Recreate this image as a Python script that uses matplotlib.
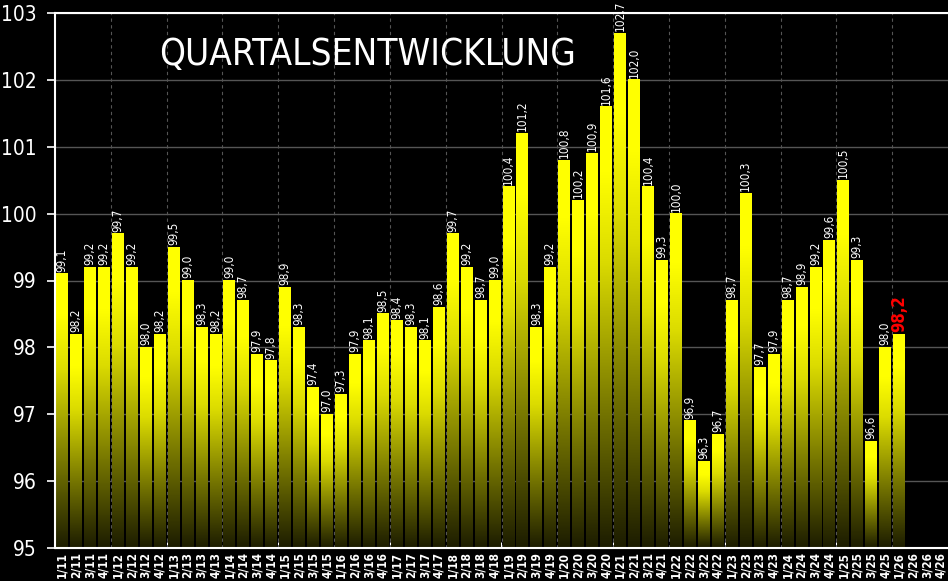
import matplotlib.pyplot as plt
import numpy as np
from matplotlib.colors import LinearSegmentedColormap

# =====================================================
# DATA
# =====================================================
YEARS = range(11, 27)
QUARTERS = [f"{q}/{y}" for y in YEARS for q in range(1, 5)]

VALUES = [
    99.1, 98.2, 99.2, 99.2,      # 2011
    99.7, 99.2, 98.0, 98.2,      # 2012
    99.5, 99.0, 98.3, 98.2,      # 2013
    99.0, 98.7, 97.9, 97.8,      # 2014
    98.9, 98.3, 97.4, 97.0,      # 2015
    97.3, 97.9, 98.1, 98.5,      # 2016
    98.4, 98.3, 98.1, 98.6,      # 2017
    99.7, 99.2, 98.7, 99.0,      # 2018
    100.4, 101.2, 98.3, 99.2,    # 2019
    100.8, 100.2, 100.9, 101.6,  # 2020
    102.7, 102.0, 100.4, 99.3,   # 2021
    100.0, 96.9, 96.3, 96.7,     # 2022
    98.7, 100.3, 97.7, 97.9,     # 2023
    98.7, 98.9, 99.2, 99.6,      # 2024
    100.5, 99.3, 96.6, 98.0,     # 2025
    98.2,                        # 2026
]

TITLE = "QUARTALSENTWICKLUNG"
Y_MIN, Y_MAX = 95, 103

# =====================================================
# STYLE
# =====================================================
FONT = "DejaVu Sans"
STRETCH = "condensed"
GRID_COLOR = "#555555"

cmap = LinearSegmentedColormap.from_list(
    "gelb",
    [(0.0, (0.11, 0.11, 0.0)),
     (0.3, (0.45, 0.45, 0.0)),
     (0.65, (0.86, 0.86, 0.0)),
     (0.85, (1.0, 1.0, 0.0)),
     (1.0, (1.0, 1.0, 0.0))],
)

fig = plt.figure(figsize=(9.48, 5.81), dpi=100, facecolor="black")
ax = fig.add_axes([55 / 948, 33 / 581, 893 / 948, 535 / 581])
ax.set_facecolor("black")

x = np.arange(len(QUARTERS))
vals = np.array(VALUES)

# bars (outline only), gradient drawn inside each one
bars = ax.bar(x[:len(vals)], vals - Y_MIN, bottom=Y_MIN, width=0.85,
              color="none", edgecolor="none", zorder=2)

grad = np.linspace(0, 1, 256).reshape(-1, 1)
for b in bars:
    x0, y0 = b.get_x(), b.get_y()
    ax.imshow(grad, extent=[x0, x0 + b.get_width(), y0, y0 + b.get_height()],
              origin="lower", aspect="auto", cmap=cmap, zorder=2)

# value labels
for i, (b, v) in enumerate(zip(bars, vals)):
    last = i == len(vals) - 1
    ax.annotate(f"{v:.1f}".replace(".", ","),
                (b.get_x() + b.get_width() / 2, v),
                xytext=(0, 1.5), textcoords="offset points",
                rotation=90, ha="center", va="bottom",
                color="red" if last else "white",
                fontsize=12 if last else 8.5,
                fontweight="bold" if last else "normal",
                family=FONT, fontstretch=STRETCH, zorder=3)

# axes
ax.set_xlim(-0.5, len(QUARTERS) - 0.5)
ax.set_ylim(Y_MIN, Y_MAX)

ax.set_yticks(range(Y_MIN, Y_MAX + 1))
ax.tick_params(axis="y", colors="white", length=6, width=1.2, pad=7,
               labelsize=15)
for lbl in ax.get_yticklabels():
    lbl.set_family(FONT)
    lbl.set_fontstretch(STRETCH)

ax.set_xticks(x)
ax.set_xticklabels(QUARTERS, rotation=90, family=FONT, fontstretch=STRETCH,
                   fontweight="bold", fontsize=8.5, color="white")
ax.tick_params(axis="x", which="major", length=0, pad=3)

# year separators
ax.set_xticks(np.arange(3.5, len(QUARTERS) - 1, 4), minor=True)
ax.tick_params(axis="x", which="minor", length=0)
ax.xaxis.grid(True, which="minor", color=GRID_COLOR, linestyle=(0, (3, 3)),
              linewidth=0.8)
ax.yaxis.grid(True, color=GRID_COLOR, linewidth=1)
ax.set_axisbelow(True)

# small inner ticks every two years
sec = ax.secondary_xaxis("bottom")
sec.set_xticks(np.arange(7.5, len(QUARTERS) - 1, 8))
sec.tick_params(direction="in", length=4, color="white", labelbottom=False)
sec.spines["bottom"].set_color("white")

for side in ["left", "bottom", "top"]:
    ax.spines[side].set_color("white")
    ax.spines[side].set_linewidth(1.5)
ax.spines["right"].set_visible(False)

fig.text(367.5 / 948, 1 - 55 / 581, TITLE, ha="center", va="center",
         color="white", fontsize=26.5, family=FONT, fontstretch=STRETCH)

plt.savefig("out.png", dpi=100, facecolor="black")
plt.close()
